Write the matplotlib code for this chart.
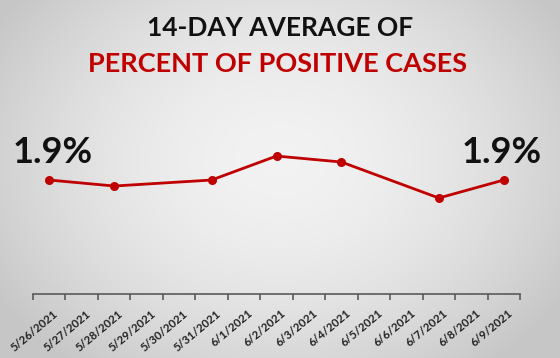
import numpy as np
import matplotlib
matplotlib.use("Agg")
import matplotlib.pyplot as plt
from matplotlib.transforms import ScaledTranslation

# ---- data ----
dates = ['5/26/2021', '5/27/2021', '5/28/2021', '5/29/2021', '5/30/2021',
         '5/31/2021', '6/1/2021', '6/2/2021', '6/3/2021', '6/4/2021',
         '6/5/2021', '6/6/2021', '6/7/2021', '6/8/2021', '6/9/2021']
point_dates = ['5/26/2021', '5/28/2021', '5/31/2021', '6/2/2021',
               '6/4/2021', '6/7/2021', '6/9/2021']
point_values = [1.90, 1.85, 1.90, 2.10, 2.05, 1.75, 1.90]
first_label = '1.9%'
last_label = '1.9%'
title_line1 = '14-DAY AVERAGE OF'
title_line2 = 'PERCENT OF POSITIVE CASES'

W, H = 560, 358
fig = plt.figure(figsize=(W / 100, H / 100), dpi=100)

# background radial gradient
bg = fig.add_axes([0, 0, 1, 1], zorder=-10)
yy, xx = np.mgrid[0:H, 0:W]
r = np.sqrt(((xx - 280) / 330.0) ** 2 + ((yy - 160) / 260.0) ** 2)
r = np.clip(r, 0, 1)
c_in, c_out = 0.95, 0.78
img = c_in + (c_out - c_in) * r ** 1.8
bg.imshow(np.dstack([img, img, img]), aspect='auto', extent=[0, W, H, 0])
bg.set_axis_off()

FONT = 'Lato'
red = '#C00000'

ax = fig.add_axes([33 / W, (H - 294) / H, 487 / W, 194 / H])
ax.patch.set_alpha(0)
xpos = [dates.index(d) for d in point_dates]
ax.plot(xpos, point_values, color=red, lw=2.0, marker='o', ms=6.5,
        markeredgewidth=0, solid_capstyle='round')
ax.set_xlim(-0.5, len(dates) - 0.5)
ax.set_ylim(0.95, 2.567)
for s in ['top', 'right', 'left']:
    ax.spines[s].set_visible(False)
ax.spines['bottom'].set_color('#5a5a5a')
ax.spines['bottom'].set_linewidth(1.2)
ax.set_yticks([])
ax.set_xticks(np.arange(len(dates) + 1) - 0.5, minor=False)
ax.set_xticklabels([])
ax.tick_params(axis='x', which='major', length=4, width=1.2, color='#5a5a5a', direction='out')
ax.set_xticks(np.arange(len(dates)), minor=True)
labels = ax.set_xticklabels(dates, minor=True, rotation=40, ha='right', va='top',
                            rotation_mode='anchor', fontsize=8.3, fontweight='bold',
                            family=FONT, color='#222222')
ax.tick_params(axis='x', which='minor', length=0, pad=10)
off = ScaledTranslation(4 / 100, 0, fig.dpi_scale_trans)
for lb in labels:
    lb.set_transform(lb.get_transform() + off)

fig.text(13 / W, 1 - 163 / H, first_label, ha='left', va='baseline',
         fontsize=26, fontweight='bold', family=FONT, color='#111111')
fig.text(542 / W, 1 - 163 / H, last_label, ha='right', va='baseline',
         fontsize=26, fontweight='bold', family=FONT, color='#111111')

fig.text(280 / W, 1 - 36 / H, title_line1, ha='center', va='baseline',
         fontsize=19, fontweight='bold', family=FONT, color='#111111')
fig.text(278 / W, 1 - 72 / H, title_line2, ha='center', va='baseline',
         fontsize=19.5, fontweight='bold', family=FONT, color=red)

fig.savefig('out.png', dpi=100)
